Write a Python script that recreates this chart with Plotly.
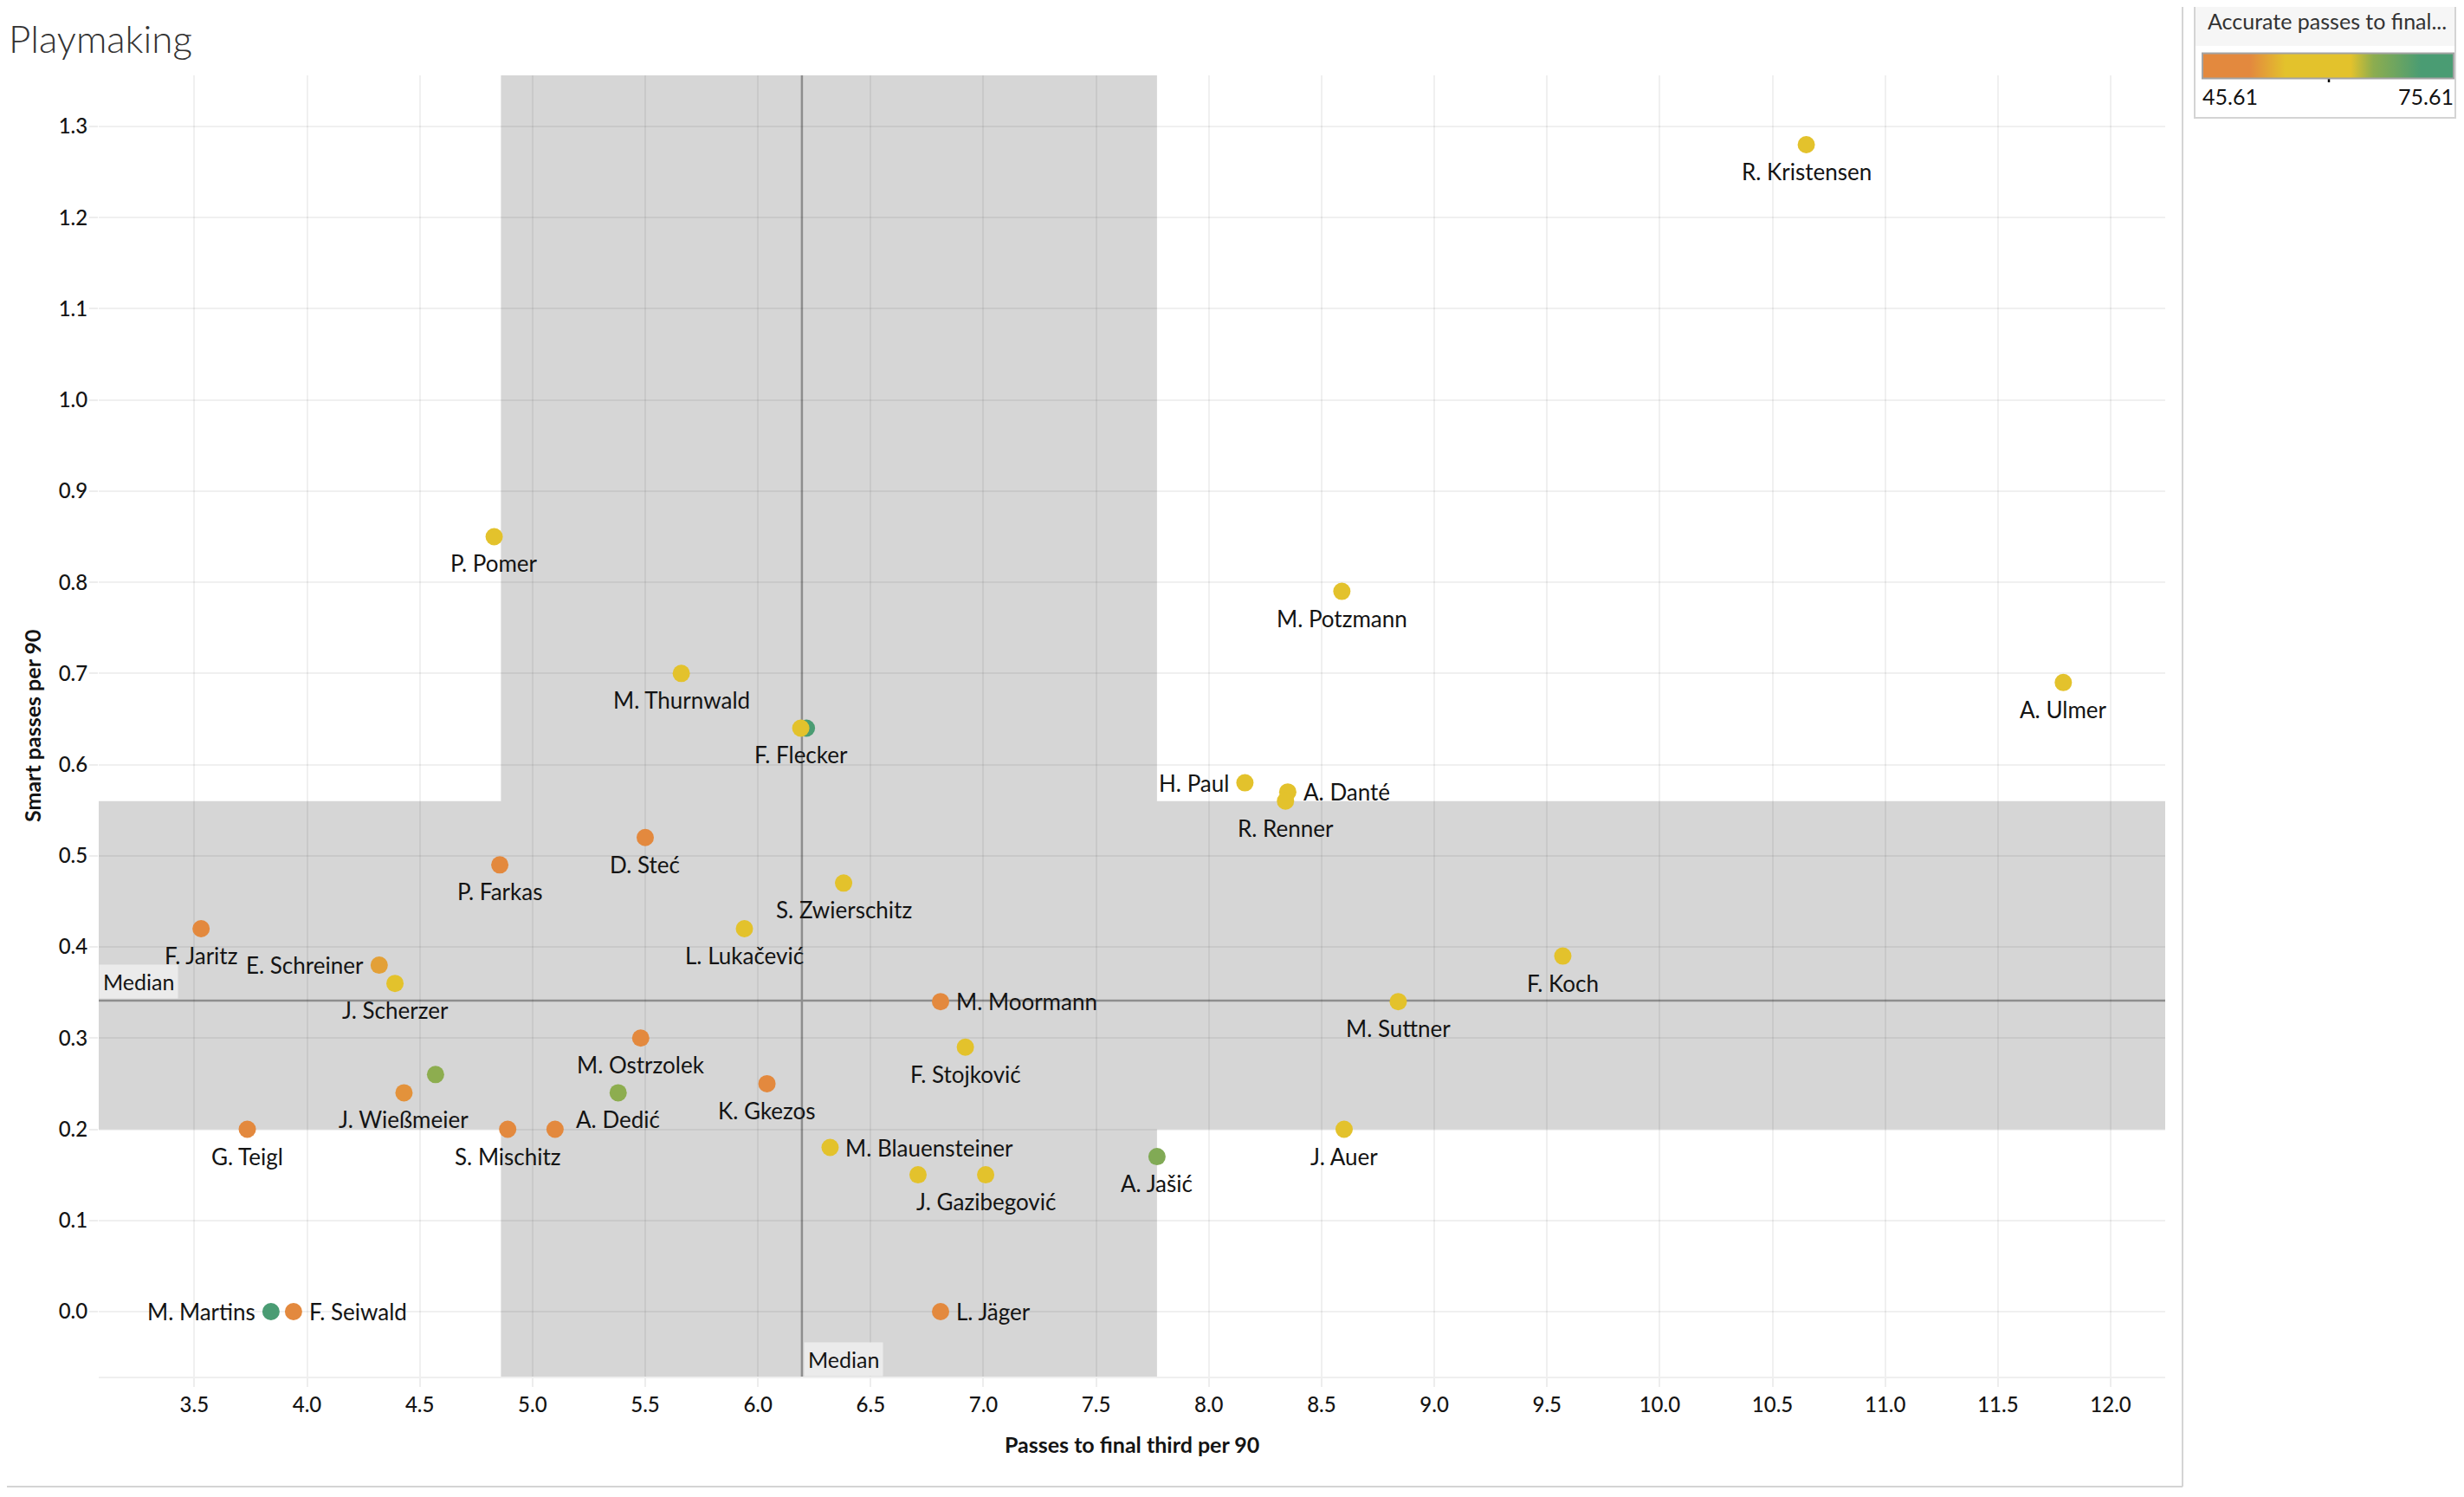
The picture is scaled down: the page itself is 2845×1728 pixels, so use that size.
import plotly.graph_objects as go

# ---------------- data ----------------
PLAYERS = ["R. Kristensen", "A. Ulmer", "M. Potzmann", "P. Pomer", "M. Thurnwald",
           "", "F. Flecker", "H. Paul", "A. Danté", "R. Renner", "D. Steć", "P. Farkas",
           "S. Zwierschitz", "L. Lukačević", "F. Jaritz", "E. Schreiner", "J. Scherzer",
           "F. Koch", "M. Moormann", "M. Suttner", "M. Ostrzolek", "F. Stojković", "",
           "J. Wießmeier", "A. Dedić", "K. Gkezos", "G. Teigl", "S. Mischitz", "",
           "J. Auer", "M. Blauensteiner", "A. Jašić", "", "J. Gazibegović", "L. Jäger",
           "M. Martins", "F. Seiwald"]
PASSES_FINAL_THIRD = [10.65, 11.79, 8.59, 4.83, 5.66,
                      6.215, 6.19, 8.16, 8.35, 8.34, 5.50, 4.855,
                      6.38, 5.94, 3.53, 4.32, 4.39,
                      9.57, 6.81, 8.84, 5.48, 6.92, 4.57,
                      4.43, 5.38, 6.04, 3.735, 4.89, 5.10,
                      8.60, 6.32, 7.77, 6.71, 7.01, 6.81,
                      3.84, 3.94]
SMART_PASSES = [1.28, 0.69, 0.79, 0.85, 0.70,
                0.64, 0.64, 0.58, 0.57, 0.56, 0.52, 0.49,
                0.47, 0.42, 0.42, 0.38, 0.36,
                0.39, 0.34, 0.34, 0.30, 0.29, 0.26,
                0.24, 0.24, 0.25, 0.20, 0.20, 0.20,
                0.20, 0.18, 0.17, 0.15, 0.15, 0.00,
                0.00, 0.00]
ACCURATE_PCT = [58, 58, 58, 57, 57,
                72, 59, 62, 57, 58, 51, 50,
                63, 58, 50, 53, 56,
                58, 48, 61, 48, 58, 66,
                52, 66, 48, 47, 47, 50,
                58, 61, 67, 57, 58, 50,
                74, 48]
LABEL_SIDE = ["b", "b", "b", "b", "b",
              "b", "b", "l", "r", "b", "b", "b",
              "b", "b", "b", "l", "b",
              "b", "r", "b", "b", "b", "b",
              "b", "b", "b", "b", "b", "b",
              "b", "r", "b", "b", "b", "r",
              "l", "r"]

X_TICKS = [3.5, 4.0, 4.5, 5.0, 5.5, 6.0, 6.5, 7.0, 7.5, 8.0, 8.5, 9.0, 9.5, 10.0,
           10.5, 11.0, 11.5, 12.0]
Y_TICKS = [0.0, 0.1, 0.2, 0.3, 0.4, 0.5, 0.6, 0.7, 0.8, 0.9, 1.0, 1.1, 1.2, 1.3]
X_MEDIAN = 6.195
Y_MEDIAN = 0.341
X_BAND = [4.86, 7.77]
Y_BAND = [0.20, 0.56]
COLOR_MIN, COLOR_MAX = 45.61, 75.61

# ---------------- layout geometry (page pixels) ----------------
W, H = 2845, 1728
BODY = 8  # default page margin around the figure div
PL, PR, PT, PB = 114, 2500, 87, 1589
X_RANGE = [3.076, 12.242]
Y_RANGE = [-0.0713, 1.356]


def px(xp):
    return (xp - PL) / (PR - PL)


def py(yp):
    return (PB - yp) / (PB - PT)


FONT = "Lato, 'Open Sans', sans-serif"
TXT = "#141414"
ORANGE, YELLOW, OLIVE, GREEN = "#E3893E", "#E3C22C", "#8DAD4F", "#4A9C73"
COLORSCALE = [[0.0, ORANGE], [0.19, ORANGE], [0.33, YELLOW], [0.59, YELLOW],
              [0.68, OLIVE], [0.87, GREEN], [1.0, GREEN]]
LBL = 26
TICK = 24

fig = go.Figure()
fig.add_trace(go.Scatter(
    x=PASSES_FINAL_THIRD, y=SMART_PASSES, mode="markers",
    text=PLAYERS, hoverinfo="text",
    marker=dict(size=20, color=ACCURATE_PCT, cmin=COLOR_MIN, cmax=COLOR_MAX,
                colorscale=COLORSCALE, line=dict(width=0), opacity=1,
                colorbar=dict(orientation="h", xref="paper", yref="paper",
                              x=px(2688), xanchor="center", y=py(77),
                              yanchor="middle", lenmode="pixels", len=290,
                              thickness=29, xpad=0, ypad=0,
                              outlinecolor="#A3A3A3", outlinewidth=2,
                              showticklabels=False, ticks="")),
    showlegend=False,
))

shapes = []
shapes.append(dict(type="rect", xref="x", yref="paper", x0=X_BAND[0], x1=X_BAND[1],
                   y0=0, y1=1, fillcolor="#D6D6D6", line=dict(width=0), layer="below"))
shapes.append(dict(type="rect", xref="paper", yref="y", x0=0, x1=1, y0=Y_BAND[0],
                   y1=Y_BAND[1], fillcolor="#D6D6D6", line=dict(width=0), layer="below"))
shapes.append(dict(type="line", xref="x", yref="paper", x0=X_MEDIAN, x1=X_MEDIAN,
                   y0=0, y1=1, line=dict(color="#8E8E8E", width=2.5), layer="below"))
shapes.append(dict(type="line", xref="paper", yref="y", x0=0, x1=1, y0=Y_MEDIAN,
                   y1=Y_MEDIAN, line=dict(color="#8E8E8E", width=2.5), layer="below"))
shapes.append(dict(type="line", xref="paper", yref="paper", x0=px(2520), x1=px(2520),
                   y0=py(0), y1=py(1716), line=dict(color="#D4D4D4", width=2)))
shapes.append(dict(type="line", xref="paper", yref="paper", x0=px(0), x1=px(2520),
                   y0=py(1716), y1=py(1716), line=dict(color="#D4D4D4", width=2)))
shapes.append(dict(type="rect", xref="paper", yref="paper", x0=px(2534), x1=px(2835),
                   y0=py(-4), y1=py(136), fillcolor="white",
                   line=dict(color="#D4D4D4", width=2), layer="below"))
shapes.append(dict(type="rect", xref="paper", yref="paper", x0=px(2535), x1=px(2834),
                   y0=py(-2), y1=py(53), fillcolor="#F6F6F6", line=dict(width=0),
                   layer="below"))
shapes.append(dict(type="line", xref="paper", yref="paper", x0=px(2689), x1=px(2689),
                   y0=py(86), y1=py(95), line=dict(color="#000000", width=2.5)))

annotations = []
for name, xv, yv, side in zip(PLAYERS, PASSES_FINAL_THIRD, SMART_PASSES, LABEL_SIDE):
    if not name:
        continue
    a = dict(x=xv, y=yv, xref="x", yref="y", text=name, showarrow=False,
             font=dict(family=FONT, size=LBL, color=TXT), yanchor="middle")
    if side == "b":
        a.update(xanchor="center", yshift=-31)
    elif side == "r":
        a.update(xanchor="left", xshift=16)
    else:
        a.update(xanchor="right", xshift=-16)
    annotations.append(a)

annotations.append(dict(x=0, y=Y_MEDIAN, xref="paper", yref="y", text="Median",
                        showarrow=False, xanchor="left", yanchor="bottom", yshift=2,
                        bgcolor="#EBEBEB", borderpad=4,
                        font=dict(family=FONT, size=25, color=TXT)))
annotations.append(dict(x=X_MEDIAN, y=0, xref="x", yref="paper", text="Median",
                        showarrow=False, xanchor="left", yanchor="bottom", xshift=2,
                        bgcolor="#EBEBEB", borderpad=4,
                        font=dict(family=FONT, size=25, color=TXT)))
annotations.append(dict(x=px(8), y=py(44), xref="paper", yref="paper", text="Playmaking",
                        showarrow=False, xanchor="left", yanchor="middle",
                        font=dict(family=FONT, size=44, color="#333333", weight=300)))
annotations.append(dict(x=0.5, y=py(1667), xref="paper", yref="paper",
                        text="Passes to final third per 90", showarrow=False,
                        xanchor="center", yanchor="middle",
                        font=dict(family=FONT, size=25, color=TXT, weight="bold")))
annotations.append(dict(x=px(37), y=0.5, xref="paper", yref="paper",
                        text="Smart passes per 90", showarrow=False, textangle=-90,
                        xanchor="center", yanchor="middle",
                        font=dict(family=FONT, size=25, color=TXT, weight="bold")))
annotations.append(dict(x=px(2547), y=py(24), xref="paper", yref="paper",
                        text="Accurate passes to final...", showarrow=False,
                        xanchor="left", yanchor="middle",
                        font=dict(family=FONT, size=25, color="#333333")))
annotations.append(dict(x=px(2541), y=py(111), xref="paper", yref="paper",
                        text=f"{COLOR_MIN:.2f}", showarrow=False,
                        xanchor="left", yanchor="middle",
                        font=dict(family=FONT, size=25, color="#111111")))
annotations.append(dict(x=px(2835), y=py(111), xref="paper", yref="paper",
                        text=f"{COLOR_MAX:.2f}", showarrow=False,
                        xanchor="right", yanchor="middle",
                        font=dict(family=FONT, size=25, color="#111111")))

GRID = "rgba(0,0,0,0.06)"
fig.update_layout(
    width=W - 2 * BODY, height=H - 2 * BODY,
    margin=dict(l=PL - BODY, r=W - PR - BODY, t=PT - BODY, b=H - PB - BODY,
                autoexpand=False),
    paper_bgcolor="white", plot_bgcolor="white",
    shapes=shapes, annotations=annotations,
    font=dict(family=FONT, color=TXT),
    xaxis=dict(range=X_RANGE, tickvals=X_TICKS, ticktext=[f"{v:.1f}" for v in X_TICKS],
               showgrid=True, gridcolor=GRID, gridwidth=2, zeroline=False,
               ticks="outside", ticklen=10, tickcolor="#EDEDED", tickwidth=2,
               ticklabelstandoff=0,
               tickfont=dict(family=FONT, size=TICK, color=TXT, weight=500),
               showline=True, linecolor="#EFEFEF", linewidth=2, automargin=False),
    yaxis=dict(range=Y_RANGE, tickvals=Y_TICKS, ticktext=[f"{v:.1f}" for v in Y_TICKS],
               showgrid=True, gridcolor=GRID, gridwidth=2, zeroline=False,
               ticks="outside", ticklen=10, tickcolor="#EDEDED", tickwidth=2,
               ticklabelstandoff=-3,
               tickfont=dict(family=FONT, size=TICK, color=TXT, weight=500),
               automargin=False),
)

fig.write_html("out.html")
